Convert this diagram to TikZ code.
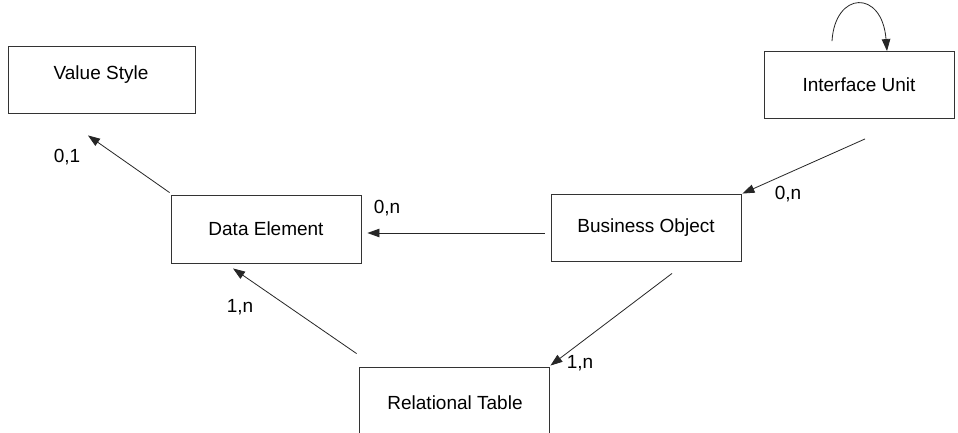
\documentclass[tikz,border=0pt]{standalone}
\usepackage{fontspec}
\setmainfont{Liberation Sans}
\usetikzlibrary{arrows.meta,calc}
\begin{document}
\begin{tikzpicture}[x=1pt,y=-1pt,
  entity/.style={draw=black!80,line width=0.9pt,minimum width=190pt,minimum height=67pt,inner sep=0pt,font=\fontsize{19}{21}\selectfont},
  card/.style={font=\fontsize{19}{21}\selectfont,inner sep=0pt},
  rel/.style={draw=black!85,line width=0.8pt,-{Triangle[length=12pt,width=8.5pt]}}]
\useasboundingbox (0,0) rectangle (958,433);
\clip (0,0) rectangle (958,433);
\fill[white] (0,0) rectangle (958,433);
\node[entity,minimum width=187pt] (vs) at (101.5,79.5) {};
\node[card] (vst) at (101,75) {Value Style};
\node[entity] (iu) at (859,85) {Interface Unit};
\node[entity,minimum height=68pt] (de) at (266,229) {Data Element};
\node[entity] (bo) at (646,227.5) {Business Object};
\node[entity] (rt) at (454,400.5) {};
\node[card] (rtt) at (455,403) {Relational Table};
\node[card] (l1) at (67,157) {0,1};
\node[card] (l2) at (387,208) {0,n};
\node[card] (l3) at (788,194) {0,n};
\node[card] (l4) at (240,307) {1,n};
\node[card] (l5) at (580,363) {1,n};
\draw[rel] ($(de.north west)+(-1,-2)$) -- ($(vs.south)+(-13.5,22)$);
\draw[rel] ($(bo.west)+(-6,5.5)$) -- ($(de.east)+(6,4)$);
\draw[rel] ($(iu.south)+(6,20)$) -- ($(bo.north east)+(1,0)$);
\draw[rel] ($(bo.south)+(26,12)$) -- ($(rt.north east)+(1,-1)$);
\draw[rel] ($(rt.north west)+(-2,-13)$) -- ($(de.south)+(-33,5)$);
\draw[rel] ($(iu.north)+(-27,-10)$) .. controls ($(iu.north)+(-24,-60)$) and ($(iu.north)+(23,-62)$) .. ($(iu.north)+(28,0)$);
\end{tikzpicture}
\end{document}
